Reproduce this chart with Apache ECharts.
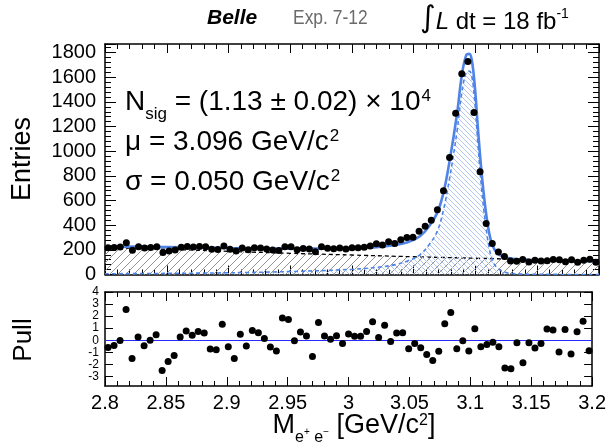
<!DOCTYPE html>
<html>
<head>
<meta charset="utf-8">
<script src="https://cdn.jsdelivr.net/npm/echarts@6/dist/echarts.min.js"></script>
<style>
  html, body { margin: 0; padding: 0; background: #ffffff; }
  #chart { width: 609px; height: 447px; }
</style>
</head>
<body>
<div id="chart"></div>
<script>
// Binning of the e+e- invariant mass histogram
const X_MIN = 2.8;
const X_MAX = 3.2;
const N_BINS = 81;

// Entries per bin
const entries = [
  218, 219, 224, 258, 196, 226, 214, 220, 226, 178,
  190, 198, 222, 228, 224, 228, 225, 204, 202, 232,
  205, 190, 214, 201, 218, 214, 207, 198, 194, 225,
  225, 200, 211, 206, 185, 226, 212, 208, 215, 206,
  218, 218, 222, 232, 250, 240, 265, 252, 282, 300,
  302, 350, 392, 440, 525, 680, 950, 1308, 1629, 1729,
  1314, 833, 413, 252, 182, 147, 110, 108, 122, 102,
  116, 110, 112, 122, 120, 104, 120, 100, 116, 124,
  100
];

// Pull per bin
const pulls = [
  -0.6, -0.43, -0.03, 2.55, -1.52, 0.27, -0.46, 0.0, 0.46, -2.52,
  -1.76, -1.27, 0.27, 0.76, 0.41, 0.73, 0.6, -0.73, -0.79, 1.33,
  -0.54, -1.52, 0.49, -0.49, 0.81, 0.62, 0.14, -0.57, -0.89, 1.84,
  1.71, -0.05, 0.68, 0.35, -1.36, 1.46, 0.35, 0.08, 0.38, -0.27,
  0.51, 0.33, 0.33, 0.73, 1.54, 0.22, 1.25, -0.11, 0.6, 0.62,
  -0.7, -0.27, -0.62, -1.19, -1.68, -0.92, 1.36, 2.3, -0.7, -0.05,
  -0.89, 0.95, -0.54, -0.35, -0.16, -0.54, -2.3, -2.36, -0.22, -1.87,
  -0.22, -0.65, -0.27, 0.92, 0.84, -0.98, 0.89, -1.14, 0.7, 1.57,
  -0.87
];

// Fit model: total, signal and background curves
const fitTotalX = [2.80, 2.85, 2.90, 2.95, 3.00, 3.02, 3.035, 3.045, 3.055, 3.063, 3.069, 3.074, 3.079, 3.085, 3.089, 3.0925, 3.095, 3.097, 3.0995, 3.102, 3.105, 3.108, 3.111, 3.114, 3.118, 3.124, 3.13, 3.145, 3.17, 3.2];
const fitTotalY = [228, 222, 215, 210, 212, 222, 240, 262, 310, 400, 500, 660, 920, 1300, 1620, 1780, 1790, 1740, 1520, 1180, 820, 540, 340, 230, 170, 140, 128, 118, 112, 106];

const fitSignalX = [2.80, 2.85, 2.90, 2.95, 3.00, 3.02, 3.035, 3.045, 3.055, 3.063, 3.069, 3.074, 3.079, 3.085, 3.089, 3.0925, 3.095, 3.097, 3.0995, 3.102, 3.105, 3.108, 3.111, 3.114, 3.118, 3.124, 3.13, 3.145, 3.2];
const fitSignalY = [6, 9, 14, 24, 42, 58, 80, 110, 160, 250, 350, 520, 780, 1160, 1480, 1640, 1650, 1610, 1390, 1050, 690, 420, 220, 110, 50, 18, 8, 2, 0];

const fitBkgX = [2.80, 2.85, 2.90, 2.95, 3.00, 3.05, 3.10, 3.15, 3.20];
const fitBkgY = [220, 205, 188, 172, 158, 144, 132, 120, 108];

// Axis tick labels
const massTicks = ['2.8', '2.85', '2.9', '2.95', '3', '3.05', '3.1', '3.15', '3.2'];
const pullTicks = [-3, -2, -1, 0, 1, 2, 3, 4];

const binWidth = (X_MAX - X_MIN) / N_BINS;
const binCenter = i => X_MIN + (i + 0.5) * binWidth;
const entryData = entries.map((v, i) => [binCenter(i), v]);
const pullData = pulls.map((v, i) => [binCenter(i), v]);
const zip = (xs, ys) => xs.map((x, i) => [x, ys[i]]);

function hatch(color, size, forward, lw) {
  const c = document.createElement('canvas');
  c.width = c.height = size;
  const g = c.getContext('2d');
  g.strokeStyle = color;
  g.lineWidth = lw;
  g.beginPath();
  if (forward) {
    g.moveTo(-1, size + 1); g.lineTo(size + 1, -1);
    g.moveTo(-1, 1); g.lineTo(1, -1);
    g.moveTo(size - 1, size + 1); g.lineTo(size + 1, size - 1);
  } else {
    g.moveTo(-1, -1); g.lineTo(size + 1, size + 1);
    g.moveTo(size - 1, -1); g.lineTo(size + 1, 1);
    g.moveTo(-1, size - 1); g.lineTo(1, size + 1);
  }
  g.stroke();
  return c;
}

const FONT = 'Liberation Sans, Arial, sans-serif';
const FIT_BLUE = '#4f84e6';

const frameX = (gridIndex, position) => ({
  type: 'value', gridIndex, position, min: X_MIN, max: X_MAX, interval: 0.05,
  axisLine: { show: true, onZero: false, lineStyle: { color: '#000', width: 1.5 } },
  axisTick: { show: true, inside: true, length: 9, lineStyle: { color: '#000', width: 1 } },
  minorTick: { show: true, splitNumber: 5, length: 5, lineStyle: { color: '#000', width: 1 } },
  splitLine: { show: false },
  axisLabel: { show: false }
});

const xAxes = [frameX(0, 'bottom'), frameX(0, 'top'), frameX(1, 'bottom'), frameX(1, 'top')];
xAxes[2].axisLabel = {
  show: true, fontFamily: FONT, fontSize: 20, color: '#000', margin: 7,
  formatter: v => {
    const s = massTicks.find(t => Math.abs(parseFloat(t) - v) < 1e-6);
    return s === undefined ? '' : s;
  }
};

const entriesY = position => ({
  type: 'value', gridIndex: 0, position, min: 0, max: 1870, interval: 200,
  axisLine: { show: true, onZero: false, lineStyle: { color: '#000', width: 1.5 } },
  axisTick: { show: true, inside: true, length: 11, lineStyle: { color: '#000', width: 1 } },
  minorTick: { show: true, splitNumber: 5, length: 6, lineStyle: { color: '#000', width: 1 } },
  splitLine: { show: false },
  axisLabel: { show: false }
});
const pullY = position => ({
  type: 'value', gridIndex: 1, position, min: -3.8, max: 4,
  axisLine: { show: true, onZero: false, lineStyle: { color: '#000', width: 1.5 } },
  axisTick: { show: true, inside: true, length: 8, customValues: pullTicks, lineStyle: { color: '#000', width: 1 } },
  splitLine: { show: false },
  axisLabel: { show: false }
});

const yAxes = [entriesY('left'), entriesY('right'), pullY('left'), pullY('right')];
yAxes[0].axisLabel = {
  show: true, fontFamily: FONT, fontSize: 20, color: '#000', margin: 9,
  formatter: v => String(v)
};
yAxes[2].axisLabel = {
  show: true, fontFamily: FONT, fontSize: 12, color: '#000', margin: 6,
  customValues: pullTicks, formatter: v => String(v)
};

const chart = echarts.init(document.getElementById('chart'), null, { renderer: 'canvas' });

const option = {
  animation: false,
  backgroundColor: '#ffffff',
  grid: [
    { left: 105, top: 44, width: 494, height: 230.5 },
    { left: 105, top: 292, width: 494, height: 94 }
  ],
  xAxis: xAxes,
  yAxis: yAxes,
  series: [
    {
      name: 'background', type: 'line', xAxisIndex: 0, yAxisIndex: 0,
      data: zip(fitBkgX, fitBkgY), smooth: true, symbol: 'none', z: 2,
      lineStyle: { color: '#000', width: 1.3, type: [4, 3] },
      areaStyle: { color: { image: hatch('#8a8a8a', 8, true, 0.9), repeat: 'repeat' }, opacity: 1 }
    },
    {
      name: 'signal', type: 'line', xAxisIndex: 0, yAxisIndex: 0,
      data: zip(fitSignalX, fitSignalY), smooth: 0.4, symbol: 'none', z: 3,
      lineStyle: { color: FIT_BLUE, width: 1.6, type: [4, 3] },
      areaStyle: { color: { image: hatch('#a9c1ef', 5, false, 0.9), repeat: 'repeat' }, opacity: 1 }
    },
    {
      name: 'total', type: 'line', xAxisIndex: 0, yAxisIndex: 0,
      data: zip(fitTotalX, fitTotalY), smooth: 0.4, symbol: 'none', z: 4,
      lineStyle: { color: FIT_BLUE, width: 2.6 }
    },
    {
      name: 'data', type: 'scatter', xAxisIndex: 0, yAxisIndex: 0,
      data: entryData, symbol: 'circle', symbolSize: 7, z: 5,
      itemStyle: { color: '#000', opacity: 1 }
    },
    {
      name: 'pull', type: 'scatter', xAxisIndex: 2, yAxisIndex: 2,
      data: pullData, symbol: 'circle', symbolSize: 7, z: 5,
      itemStyle: { color: '#000', opacity: 1 },
      markLine: {
        silent: true, symbol: 'none', label: { show: false },
        lineStyle: { color: '#2a2aff', width: 1.2, type: 'solid' },
        data: [{ yAxis: 0 }]
      }
    }
  ],
  graphic: [
    {
      type: 'text', x: 23, y: 159, rotation: Math.PI / 2,
      style: { text: 'Entries', font: '27px ' + FONT, fill: '#000', textAlign: 'center', textVerticalAlign: 'middle' }
    },
    {
      type: 'text', x: 24, y: 340, rotation: Math.PI / 2,
      style: { text: 'Pull', font: '26px ' + FONT, fill: '#000', textAlign: 'center', textVerticalAlign: 'middle' }
    },
    {
      type: 'text', x: 354, y: 412,
      style: {
        text: '{m|M}{s|e}{ss|+}{s| e}{ss|\u2212}{m| [GeV/c}{p|2}{m|]}',
        textAlign: 'center', textVerticalAlign: 'top', fill: '#000',
        rich: {
          m: { fontFamily: FONT, fontSize: 27, lineHeight: 31, verticalAlign: 'top' },
          s: { fontFamily: FONT, fontSize: 16, lineHeight: 16, verticalAlign: 'top', padding: [18, 0, 0, 0] },
          ss: { fontFamily: FONT, fontSize: 10, lineHeight: 10, verticalAlign: 'top', padding: [15, 0, 0, 0] },
          p: { fontFamily: FONT, fontSize: 16, lineHeight: 16, verticalAlign: 'top', padding: [1, 0, 0, 0] }
        }
      }
    },
    {
      type: 'text', x: 207, y: 29,
      style: { text: 'Belle', font: 'italic bold 21px ' + FONT, fill: '#000', textVerticalAlign: 'bottom' }
    },
    {
      type: 'text', x: 293, y: 29, scaleX: 0.83,
      style: { text: 'Exp. 7-12', font: '21px ' + FONT, fill: '#6b6b6b', textVerticalAlign: 'bottom' }
    },
    {
      type: 'text', x: 420, y: 4,
      style: {
        text: '{i|\u222B}{l|L}{m| dt = 18 fb}{p|-1}',
        textVerticalAlign: 'top', fill: '#000',
        rich: {
          i: { fontFamily: 'DejaVu Sans, ' + FONT, fontSize: 30, lineHeight: 36, verticalAlign: 'top' },
          l: { fontFamily: FONT, fontStyle: 'italic', fontSize: 24, lineHeight: 24, verticalAlign: 'top', padding: [6, 0, 0, 0] },
          m: { fontFamily: FONT, fontSize: 24, lineHeight: 24, verticalAlign: 'top', padding: [6, 0, 0, 0] },
          p: { fontFamily: FONT, fontSize: 14, lineHeight: 14, verticalAlign: 'top', padding: [3, 0, 0, 0] }
        }
      }
    },
    {
      type: 'text', x: 125, y: 88,
      style: {
        text: '{m|N}{s|sig}{m| = (1.13 \u00B1 0.02) \u00D7 10}{p|4}',
        textVerticalAlign: 'top', fill: '#000',
        rich: {
          m: { fontFamily: FONT, fontSize: 28, lineHeight: 30, verticalAlign: 'top' },
          s: { fontFamily: FONT, fontSize: 17, lineHeight: 17, verticalAlign: 'top', padding: [18, 0, 0, 0] },
          p: { fontFamily: FONT, fontSize: 17, lineHeight: 17, verticalAlign: 'top', padding: [0, 0, 0, 1] }
        }
      }
    },
    {
      type: 'text', x: 125, y: 128,
      style: {
        text: '{m|\u03BC = 3.096 GeV/c}{p|2}',
        textVerticalAlign: 'top', fill: '#000',
        rich: {
          m: { fontFamily: FONT, fontSize: 28, lineHeight: 30, verticalAlign: 'top' },
          p: { fontFamily: FONT, fontSize: 17, lineHeight: 17, verticalAlign: 'top', padding: [0, 0, 0, 1] }
        }
      }
    },
    {
      type: 'text', x: 125, y: 168,
      style: {
        text: '{m|\u03C3 = 0.050 GeV/c}{p|2}',
        textVerticalAlign: 'top', fill: '#000',
        rich: {
          m: { fontFamily: FONT, fontSize: 28, lineHeight: 30, verticalAlign: 'top' },
          p: { fontFamily: FONT, fontSize: 17, lineHeight: 17, verticalAlign: 'top', padding: [0, 0, 0, 1] }
        }
      }
    }
  ]
};

chart.setOption(option);
</script>
</body>
</html>
